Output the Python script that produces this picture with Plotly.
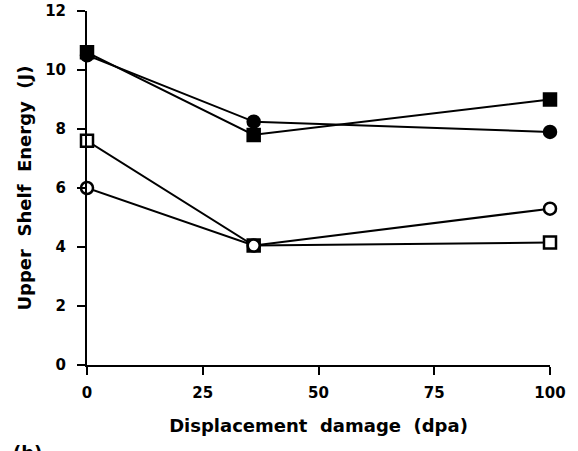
import plotly.graph_objects as go

dpa = [0, 36, 100]
filled_square = [10.6, 7.8, 9.0]
filled_circle = [10.5, 8.25, 7.9]
open_square = [7.6, 4.05, 4.15]
open_circle = [6.0, 4.05, 5.3]

x_ticks = [0, 25, 50, 75, 100]
y_ticks = [0, 2, 4, 6, 8, 10, 12]

font_family = "DejaVu Sans, Liberation Sans, sans-serif"

series = [
    (filled_square, "square", "black"),
    (filled_circle, "circle", "black"),
    (open_square, "square", "white"),
    (open_circle, "circle", "white"),
]

fig = go.Figure()
for vals, sym, fill in series:
    fig.add_trace(go.Scatter(
        x=dpa, y=vals, mode="lines+markers",
        line=dict(color="black", width=2),
        marker=dict(symbol=sym, size=12, color=fill,
                    line=dict(color="black", width=2.5)),
        cliponaxis=False, showlegend=False,
    ))

axis_common = dict(
    showgrid=False, zeroline=False, showline=True, linecolor="black",
    linewidth=2, ticks="outside", ticklen=8, tickwidth=2, tickcolor="black",
    tickfont=dict(family=font_family, size=15, color="black", weight="bold"),
    automargin=False, layer="above traces",
)

fig.update_xaxes(range=[0, 100], tickvals=x_ticks, ticktext=[str(v) for v in x_ticks],
                 title=dict(text="Displacement  damage  (dpa)",
                            font=dict(family=font_family, size=18, color="black", weight="bold"),
                            standoff=18),
                 ticklabelstandoff=5, **axis_common)
fig.update_yaxes(range=[0, 12], tickvals=y_ticks, ticktext=[str(v) for v in y_ticks],
                 title=dict(text="Upper  Shelf  Energy  (J)",
                            font=dict(family=font_family, size=18, color="black", weight="bold"),
                            standoff=9),
                 ticklabelstandoff=8, **axis_common)

fig.add_annotation(text="(b)", xref="paper", yref="paper", x=-0.165, y=-0.212,
                   xanchor="left", yanchor="top", showarrow=False,
                   font=dict(family=font_family, size=18, color="black", weight="bold"))

fig.update_layout(
    width=578, height=451,
    margin=dict(l=87, r=28, t=11, b=86),
    paper_bgcolor="white", plot_bgcolor="white",
)

fig.write_html("out.html", config={"displayModeBar": False},
               post_script="document.body.style.margin='0';")
